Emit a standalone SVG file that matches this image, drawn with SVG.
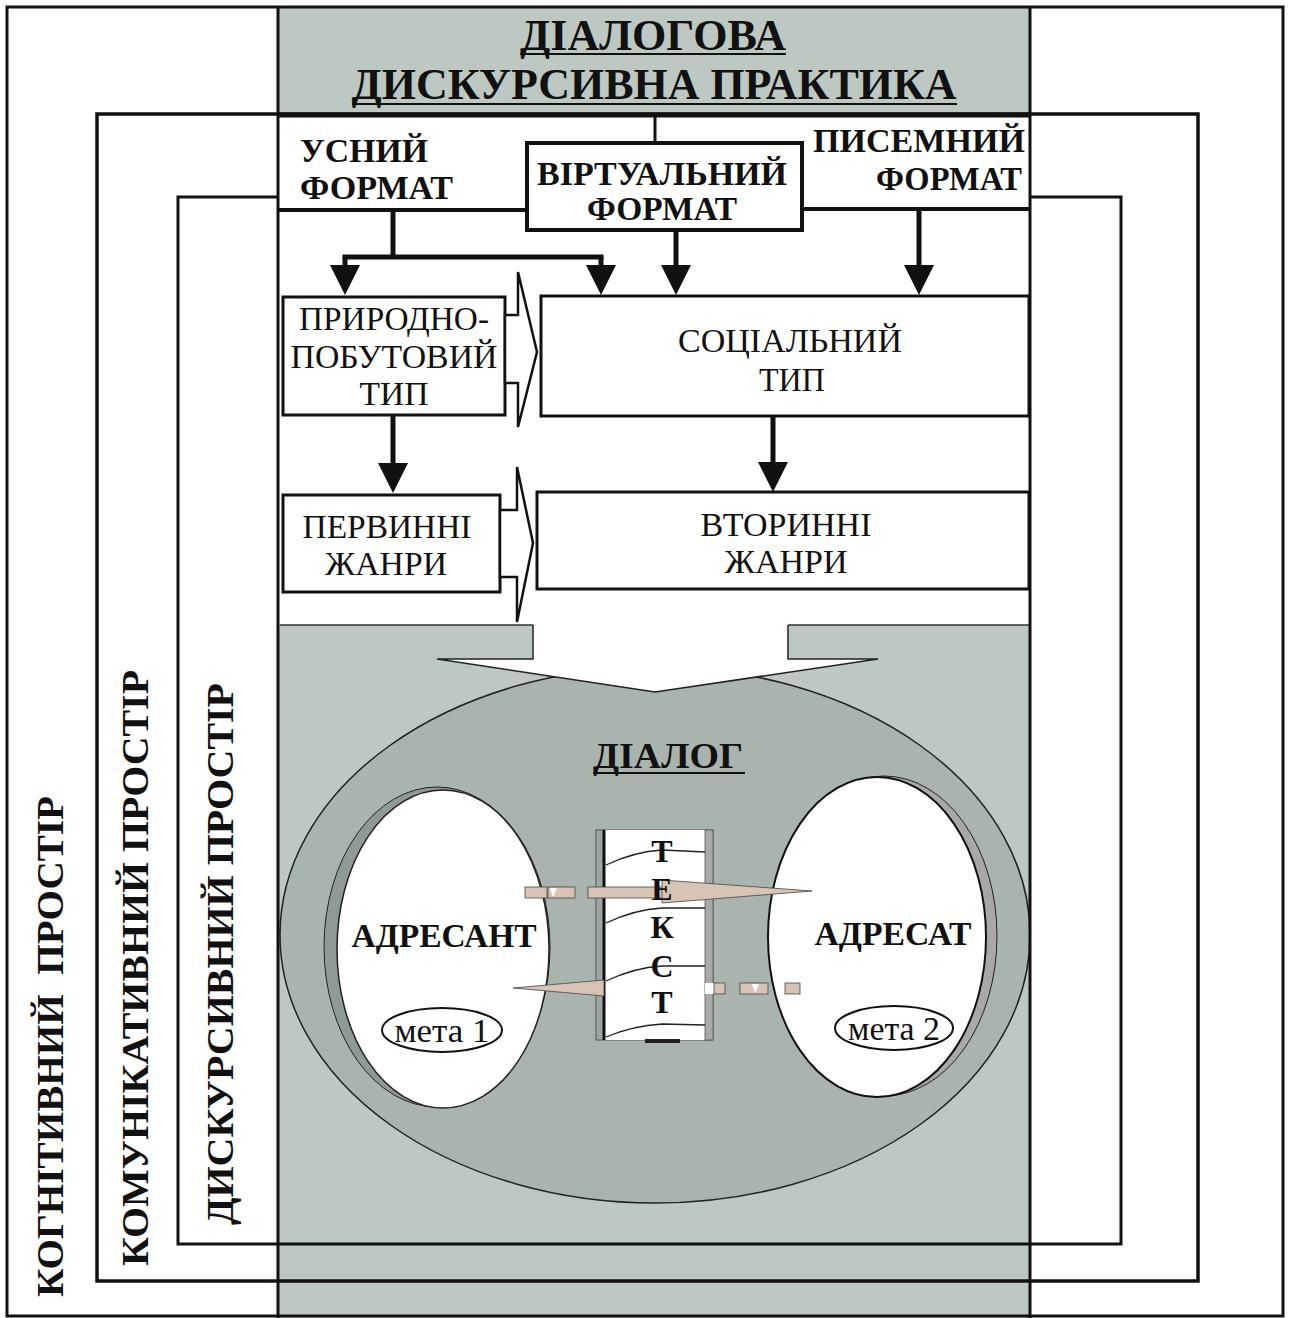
<svg xmlns="http://www.w3.org/2000/svg" width="1291" height="1318" viewBox="0 0 1291 1318">
<style>
  text { font-family: "Liberation Serif", "Times New Roman", serif; fill: #111; }
  .b { font-weight: bold; }
  .c { text-anchor: middle; }
  .e { text-anchor: end; }
  .fmt { font-size: 33px; font-weight: bold; }
  .lbl { font-size: 33px; }
  .side { font-size: 38px; font-weight: bold; }
  .frame { fill: none; stroke: #111; stroke-width: 3; }
  .box { fill: #fff; stroke: #111; stroke-width: 3; }
  .conn { fill: none; stroke: #111; stroke-width: 5; }
  .hollow { fill: #fff; stroke: #111; stroke-width: 2.5; stroke-linejoin: miter; }
  .thin { fill: none; stroke: #222; stroke-width: 1.3; }
  .beige { fill: #d8c4b4; stroke: #444; stroke-width: 0.8; }
  .rule { stroke: #111; stroke-width: 2; }
</style>
<defs>
  <marker id="head" markerUnits="userSpaceOnUse" markerWidth="30" markerHeight="30" viewBox="0 0 30 30" refX="0" refY="15" orient="auto">
    <path d="M0,0 L30,15 L0,30 z" fill="#111"/>
  </marker>
</defs>

<rect width="1291" height="1318" fill="#fff"/>

<!-- central column of the discursive practice -->
<rect x="278" y="8" width="752" height="1310" fill="#bec8c2"/>

<!-- nested spaces: cognitive, communicative, discursive -->
<g id="spaces">
  <rect class="frame" x="7" y="7" width="1276" height="1309"/>
  <rect class="frame" x="97" y="114" width="1101" height="1167" style="stroke-width:3.5"/>
  <rect class="frame" x="178" y="197" width="943" height="1047"/>
  <text class="side" transform="translate(63,1297) rotate(-90)" textLength="501" lengthAdjust="spacingAndGlyphs" xml:space="preserve">КОГНІТИВНИЙ  ПРОСТІР</text>
  <text class="side" transform="translate(148,1266) rotate(-90)" textLength="596" lengthAdjust="spacingAndGlyphs">КОМУНІКАТИВНИЙ ПРОСТІР</text>
  <text class="side" transform="translate(233,1225) rotate(-90)" textLength="542" lengthAdjust="spacingAndGlyphs">ДИСКУРСИВНИЙ ПРОСТІР</text>
</g>

<!-- white field of formats, types and genres -->
<rect x="279" y="115" width="750" height="510" fill="#fff"/>
<path d="M280,625 H533 M788,625 H1029" stroke="#333" stroke-width="1.3"/>

<!-- dialogue -->
<g id="dialogue">
  <ellipse cx="655" cy="935" rx="375" ry="268" fill="#a9b4af" stroke="#222" stroke-width="1.5"/>
  <text class="b c" x="668" y="768" font-size="36" textLength="150" lengthAdjust="spacingAndGlyphs">ДІАЛОГ</text>
  <line class="rule" x1="593" y1="773" x2="745" y2="773"/>
</g>

<!-- wide arrow from genres into the dialogue -->
<g id="genres-to-dialogue">
  <polygon points="533,618 788,618 788,659 878,659 655,692 437,659 533,659" fill="#fff"/>
  <path d="M533,625 V659 H437 L655,692 L878,659 H788 V625" fill="none" stroke="#222" stroke-width="1.5"/>
</g>

<!-- column borders -->
<path d="M278,7 V1318 M1030,7 V1318" stroke="#111" stroke-width="3"/>
<line x1="278" y1="115" x2="1030" y2="115" stroke="#111" stroke-width="5"/>

<!-- header -->
<g id="practice">
  <text class="b c" x="653" y="50" font-size="44" textLength="266" lengthAdjust="spacingAndGlyphs">ДІАЛОГОВА</text>
  <line class="rule" x1="520" y1="54" x2="786" y2="54"/>
  <text class="b c" x="654" y="99" font-size="44" textLength="605" lengthAdjust="spacingAndGlyphs">ДИСКУРСИВНА ПРАКТИКА</text>
  <line class="rule" x1="352" y1="104" x2="957" y2="104"/>
</g>

<!-- formats -->
<g id="oral-format">
  <line x1="278" y1="210" x2="527" y2="210" stroke="#111" stroke-width="4"/>
  <text class="fmt" x="300" y="162" textLength="128" lengthAdjust="spacingAndGlyphs">УСНИЙ</text>
  <text class="fmt" x="300" y="199" textLength="153" lengthAdjust="spacingAndGlyphs">ФОРМАТ</text>
</g>
<g id="virtual-format">
  <rect x="527" y="143" width="275" height="87" fill="#fff" stroke="#111" stroke-width="4"/>
  <text class="fmt c" x="662" y="185" textLength="250" lengthAdjust="spacingAndGlyphs">ВІРТУАЛЬНИЙ</text>
  <text class="fmt c" x="662" y="220" textLength="150" lengthAdjust="spacingAndGlyphs">ФОРМАТ</text>
</g>
<g id="written-format">
  <line x1="802" y1="209" x2="1030" y2="209" stroke="#111" stroke-width="4"/>
  <text class="fmt e" x="1025" y="152" textLength="212" lengthAdjust="spacingAndGlyphs">ПИСЕМНИЙ</text>
  <text class="fmt e" x="1022" y="190" textLength="146" lengthAdjust="spacingAndGlyphs">ФОРМАТ</text>
</g>

<!-- types -->
<g id="everyday-type">
  <rect class="box" x="283" y="297" width="222" height="118"/>
  <text class="lbl c" x="394" y="330" textLength="190" lengthAdjust="spacingAndGlyphs">ПРИРОДНО-</text>
  <text class="lbl c" x="394" y="368" textLength="207" lengthAdjust="spacingAndGlyphs">ПОБУТОВИЙ</text>
  <text class="lbl c" x="394" y="405" textLength="69" lengthAdjust="spacingAndGlyphs">ТИП</text>
</g>
<g id="social-type">
  <rect class="box" x="541" y="296" width="488" height="120"/>
  <text class="lbl c" x="790" y="352" textLength="224" lengthAdjust="spacingAndGlyphs">СОЦІАЛЬНИЙ</text>
  <text class="lbl c" x="792" y="391" textLength="66" lengthAdjust="spacingAndGlyphs">ТИП</text>
</g>

<!-- genres -->
<g id="primary-genres">
  <rect class="box" x="283" y="495" width="217" height="97"/>
  <text class="lbl c" x="387" y="538" textLength="169" lengthAdjust="spacingAndGlyphs">ПЕРВИННІ</text>
  <text class="lbl c" x="386" y="575" textLength="122" lengthAdjust="spacingAndGlyphs">ЖАНРИ</text>
</g>
<g id="secondary-genres">
  <rect class="box" x="537" y="492" width="492" height="97"/>
  <text class="lbl c" x="786" y="536" textLength="171" lengthAdjust="spacingAndGlyphs">ВТОРИННІ</text>
  <text class="lbl c" x="786" y="573" textLength="123" lengthAdjust="spacingAndGlyphs">ЖАНРИ</text>
</g>

<!-- connectors -->
<g id="connectors">
  <line x1="655" y1="115" x2="655" y2="143" stroke="#111" stroke-width="3"/>
  <path class="conn" d="M393,210 V257"/>
  <path class="conn" d="M345,257 H601" stroke-linecap="square"/>
  <path class="conn" d="M345,257 V265" marker-end="url(#head)"/>
  <path class="conn" d="M601,257 V265" marker-end="url(#head)"/>
  <path class="conn" d="M676,230 V265" marker-end="url(#head)"/>
  <path class="conn" d="M919,209 V265" marker-end="url(#head)"/>
  <path class="conn" d="M393,415 V463" marker-end="url(#head)"/>
  <path class="conn" d="M773,416 V462" marker-end="url(#head)"/>
  <polygon class="hollow" points="505,315 518,315 518,272 537,352 518,427 518,383 505,383"/>
  <polygon class="hollow" points="500,510 517,510 517,467 533,543 517,622 517,577 500,577"/>
</g>

<!-- addresser -->
<g id="addresser">
  <ellipse cx="437" cy="947" rx="113" ry="160" fill="#8f9995" stroke="#222" stroke-width="1"/>
  <ellipse cx="443" cy="949" rx="106" ry="159" fill="#fff" stroke="#222" stroke-width="1.5"/>
  <text class="b c" x="444" y="947" font-size="33" textLength="185" lengthAdjust="spacingAndGlyphs">АДРЕСАНТ</text>
  <ellipse cx="442" cy="1030" rx="60" ry="22" fill="#fff" stroke="#111" stroke-width="2"/>
  <text class="c" x="442" y="1042" font-size="33" textLength="95" lengthAdjust="spacingAndGlyphs">мета 1</text>
</g>

<!-- addressee -->
<g id="addressee">
  <ellipse cx="884" cy="936" rx="113" ry="160" fill="#a8a8a8" stroke="#222" stroke-width="1"/>
  <ellipse cx="877" cy="937" rx="109" ry="160" fill="#fff" stroke="#111" stroke-width="2"/>
  <text class="b c" x="893" y="945" font-size="33" textLength="157" lengthAdjust="spacingAndGlyphs">АДРЕСАТ</text>
  <ellipse cx="894" cy="1028" rx="59" ry="22" fill="#fff" stroke="#111" stroke-width="2"/>
  <text class="c" x="894" y="1040" font-size="33" textLength="92" lengthAdjust="spacingAndGlyphs">мета 2</text>
</g>

<!-- text sheet with message arrows -->
<g id="text-sheet">
  <rect x="596" y="830" width="117" height="210" fill="#9ea7a3" stroke="#555" stroke-width="1"/>
  <rect x="605" y="830" width="100" height="210" fill="#fff"/>
  <rect x="705" y="830" width="8" height="210" fill="#a9a9a9" stroke="#555" stroke-width="0.8"/>
  <line x1="604" y1="830" x2="604" y2="1040" stroke="#111" stroke-width="3"/>
  <rect x="645" y="1039" width="35" height="4" fill="#222"/>
  <path class="thin" d="M606,865 C625,856 645,851 662,850 L705,852"/>
  <path class="thin" d="M606,923 C625,914 645,909 662,908 L705,908"/>
  <path class="thin" d="M606,981 C625,972 645,967 662,966 L705,966"/>
  <path class="thin" d="M606,1037 C625,1029 645,1025 662,1024 L705,1025"/>

  <!-- forward message -->
  <rect class="beige" x="525" y="887" width="22" height="11"/>
  <rect class="beige" x="548" y="887" width="27" height="11"/>
  <polygon points="550,888 557,888 553,897" fill="#fff"/>
  <rect class="beige" x="588" y="887" width="75" height="11"/>
  <polygon class="beige" points="662,880 812,891 662,903"/>

  <!-- reply -->
  <polygon class="beige" points="604,980 513,988 604,996"/>
  <rect x="705" y="983" width="9" height="11" fill="#fff"/>
  <rect class="beige" x="714" y="983" width="11" height="11"/>
  <rect class="beige" x="740" y="983" width="28" height="11"/>
  <polygon points="752,984 759,984 755,993" fill="#fff"/>
  <rect class="beige" x="785" y="983" width="15" height="11"/>

  <text class="b c" x="662" y="862" font-size="32">Т</text>
  <text class="b c" x="662" y="900" font-size="32">Е</text>
  <text class="b c" x="662" y="938" font-size="32">К</text>
  <text class="b c" x="662" y="977" font-size="32">С</text>
  <text class="b c" x="662" y="1013" font-size="32">Т</text>
</g>
</svg>
